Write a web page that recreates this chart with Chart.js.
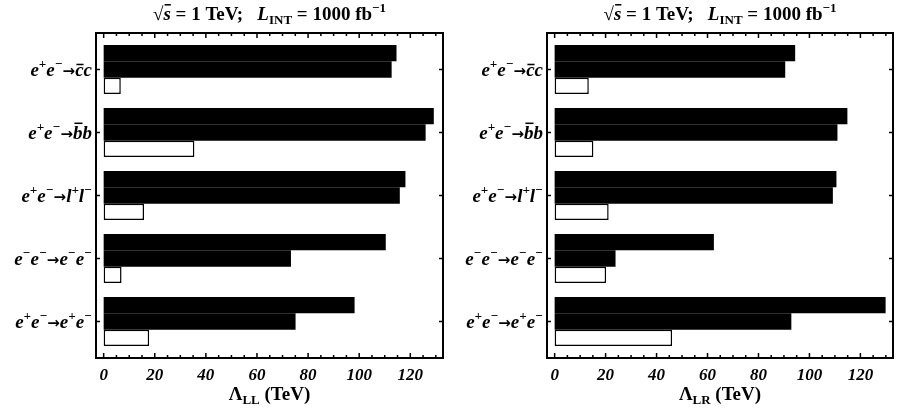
<!DOCTYPE html>
<html>
<head>
<meta charset="utf-8">
<script src="https://cdn.jsdelivr.net/npm/chart.js@4.4.0/dist/chart.umd.min.js"></script>
<style>
  html, body { margin: 0; padding: 0; background: #fff; }
  #wrap { display: flex; width: 903px; height: 414px; }
  #wrap canvas { display: block; }
</style>
</head>
<body>
<div id="wrap">
  <canvas id="chart-ll" width="451" height="414"></canvas>
  <canvas id="chart-lr" width="452" height="414"></canvas>
</div>
<script>
// Processes (rich-text markup: ^{..} sup, _{..} sub, !x / #x overbar, | toggles italic)
const categories = [
  'e^{+}e^{−}→!cc',
  'e^{+}e^{−}→#bb',
  'e^{+}e^{−}→l^{+}l^{−}',
  'e^{−}e^{−}→e^{−}e^{−}',
  'e^{+}e^{−}→e^{+}e^{−}'
];
const xTicks = [0, 20, 40, 60, 80, 100, 120];

// Lambda_LL reach (TeV)
const llUpper = [114.6, 129.2, 118.1, 110.4, 98.2];
const llLower = [112.7, 126.0, 115.9, 73.3, 75.1];
const llOpen  = [6.7, 35.5, 15.8, 7.0, 17.8];

// Lambda_LR reach (TeV)
const lrUpper = [94.4, 114.9, 110.6, 62.5, 129.9];
const lrLower = [90.5, 111.0, 109.2, 23.9, 92.9];
const lrOpen  = [13.4, 15.2, 21.2, 20.2, 46.1];

const titleText = '√|#s| = 1 TeV;   |L|_{INT} = 1000 fb^{−1}';

function fontFor(italic, size) {
  return (italic ? 'italic ' : '') + 'bold ' + size + 'px "Liberation Serif", "DejaVu Serif", serif';
}

function parseRich(str, baseItalic) {
  const segs = [];
  let italic = baseItalic, i = 0;
  while (i < str.length) {
    const c = str[i];
    if (c === '|') { italic = !italic; i++; continue; }
    if ((c === '^' || c === '_') && str[i + 1] === '{') {
      const end = str.indexOf('}', i);
      segs.push({ t: str.slice(i + 2, end), italic, pos: c === '^' ? 'sup' : 'sub' });
      i = end + 1;
      continue;
    }
    if (c === '!' || c === '#') {
      segs.push({ t: str[i + 1], italic, bar: c === '!' ? 'low' : 'high' });
      i += 2;
      continue;
    }
    if (c === '→') { segs.push({ t: c, arrow: true }); i++; continue; }
    let j = i;
    while (j < str.length && !'|^_!#→'.includes(str[j])) j++;
    segs.push({ t: str.slice(i, j), italic });
    i = j;
  }
  return segs;
}

function drawRich(ctx, str, x, y, size, baseItalic, align) {
  const segs = parseRich(str, baseItalic);
  segs.forEach(s => {
    s.size = s.pos ? Math.round(size * 0.7) : size;
    s.font = s.arrow ? 'bold ' + Math.round(size * 0.8) + 'px "DejaVu Sans", sans-serif'
                     : fontFor(s.italic, s.size);
    ctx.font = s.font;
    s.w = ctx.measureText(s.t).width;
  });
  const total = segs.reduce((a, s) => a + s.w, 0);
  let cx = align === 'right' ? x - total : align === 'center' ? x - total / 2 : x;
  ctx.textBaseline = 'alphabetic';
  ctx.textAlign = 'left';
  segs.forEach(s => {
    ctx.font = s.font;
    const dy = s.pos === 'sup' ? -size * 0.4 : s.pos === 'sub' ? size * 0.2 : 0;
    ctx.fillText(s.t, cx, y + dy);
    if (s.bar) {
      const by = y - size * (s.bar === 'high' ? 0.84 : 0.62);
      ctx.fillRect(cx + s.w * 0.15, by, s.w * 0.85, size * 0.08);
    }
    cx += s.w;
  });
}

// frame with inward ticks, category labels, title and axis label
const framePlugin = {
  id: 'frame',
  afterDraw(chart, args, opts) {
    const { ctx, chartArea: a, scales: { x, y } } = chart;
    const top = a.top - 5, bottom = a.bottom + 5;
    ctx.save();
    ctx.strokeStyle = '#000';
    ctx.fillStyle = '#000';
    ctx.lineWidth = 2;
    ctx.strokeRect(a.left, top, a.right - a.left, bottom - top);

    ctx.lineWidth = 1.5;
    ctx.beginPath();
    for (let v = 0; v <= x.max; v += 5) {
      const px = x.getPixelForValue(v);
      const len = v % 20 === 0 ? 5 : 3;
      ctx.moveTo(px, bottom); ctx.lineTo(px, bottom - len);
      ctx.moveTo(px, top); ctx.lineTo(px, top + len);
    }
    categories.forEach((_, i) => {
      const py = y.getPixelForValue(i);
      ctx.moveTo(a.left, py); ctx.lineTo(a.left + 4, py);
      ctx.moveTo(a.right, py); ctx.lineTo(a.right - 4, py);
    });
    ctx.stroke();

    categories.forEach((lab, i) => {
      drawRich(ctx, lab, a.left - 4, y.getPixelForValue(i) + 6, 19, true, 'right');
    });
    const cxm = (a.left + a.right) / 2;
    drawRich(ctx, titleText, cxm, 20, 19, false, 'center');
    drawRich(ctx, opts.axisLabel, cxm, 400, 19, false, 'center');
    ctx.restore();
  }
};

function makeChart(id, axisLabel, upper, lower, open, rightPad) {
  const ctx = document.getElementById(id);
  return new Chart(ctx, {
    type: 'bar',
    data: {
      labels: categories,
      datasets: [
        { label: 'upper', data: upper, backgroundColor: '#000', borderWidth: 0 },
        { label: 'lower', data: lower, backgroundColor: '#000', borderWidth: 0 },
        { label: 'open', data: open, backgroundColor: '#fff', borderColor: '#000',
          borderWidth: 1.5, borderSkipped: false }
      ]
    },
    options: {
      indexAxis: 'y',
      responsive: false,
      animation: false,
      layout: { padding: { top: 38, right: rightPad, bottom: 0, left: 0 } },
      datasets: { bar: { categoryPercentage: 0.78, barPercentage: 1.0 } },
      plugins: {
        legend: { display: false },
        tooltip: { enabled: false },
        frame: { axisLabel }
      },
      scales: {
        x: {
          type: 'linear',
          min: -3,
          max: 132.8,
          afterBuildTicks: scale => { scale.ticks = xTicks.map(v => ({ value: v })); },
          afterFit: scale => { scale.height = 61; },
          grid: { display: false, drawTicks: false },
          border: { display: false },
          ticks: {
            padding: 12,
            color: '#000',
            font: { family: '"Liberation Serif", serif', size: 17, style: 'italic', weight: 'bold' }
          }
        },
        y: {
          afterFit: scale => { scale.width = 96; },
          grid: { display: false, drawTicks: false },
          border: { display: false },
          ticks: { display: false }
        }
      }
    },
    plugins: [framePlugin]
  });
}

makeChart('chart-ll', 'Λ_{LL} (TeV)', llUpper, llLower, llOpen, 8);
makeChart('chart-lr', 'Λ_{LR} (TeV)', lrUpper, lrLower, lrOpen, 10);
</script>
</body>
</html>
